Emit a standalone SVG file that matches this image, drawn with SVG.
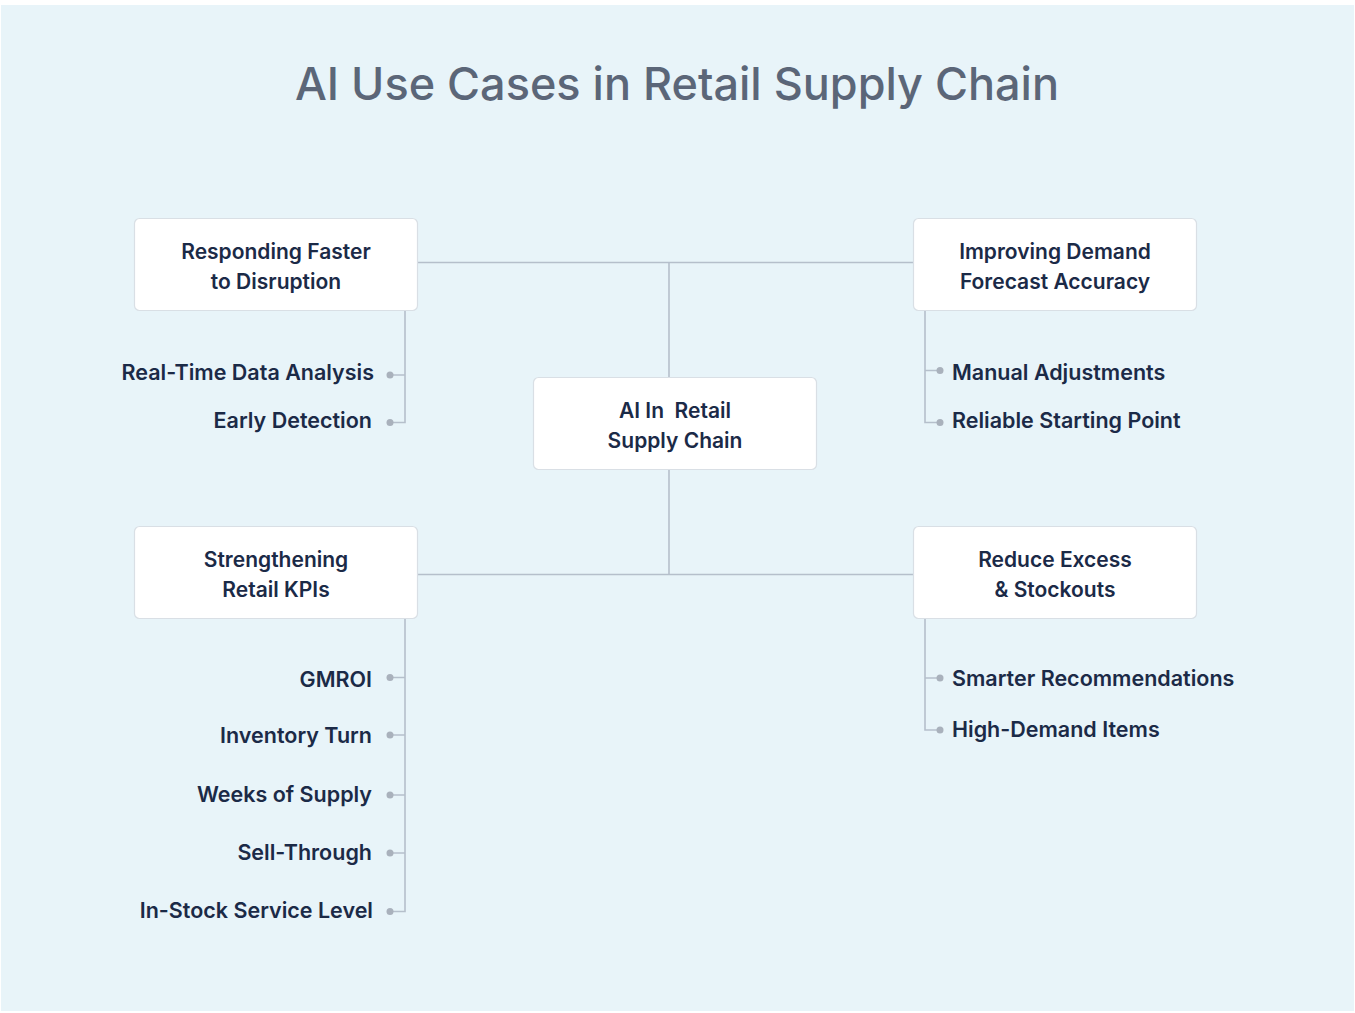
<svg xmlns="http://www.w3.org/2000/svg" width="1355" height="1013" viewBox="0 0 1355 1013">
<style>
.node rect{fill:#FFFFFF;stroke:#D9DFE5;stroke-width:1.2}
.nt{font-family:Inter,"Liberation Sans",sans-serif;font-size:21px;font-weight:600;fill:#1B2A47;text-anchor:middle}
.lt{font-family:Inter,"Liberation Sans",sans-serif;font-size:21.5px;font-weight:600;fill:#1B2A47}
.l{text-anchor:end}
.conn line,.conn path{stroke:#B5BFCB;stroke-width:1.6;fill:none}
.dot{fill:#A9B1BC}
</style>
<rect x="0" y="0" width="1355" height="1013" fill="#FFFFFF"/>
<rect x="1" y="5" width="1353" height="1006" fill="#E8F4F9"/>
<text x="677" y="100" font-family="Inter,'Liberation Sans',sans-serif" font-size="45" font-weight="500" fill="#5B6678" text-anchor="middle">AI Use Cases in Retail Supply Chain</text>
<g class="conn">
<line x1="417" y1="262.5" x2="913" y2="262.5"/>
<line x1="669" y1="262.5" x2="669" y2="377"/>
<line x1="669" y1="469" x2="669" y2="574.5"/>
<line x1="417" y1="574.5" x2="913" y2="574.5"/>
<path d="M405 310 V422.5 H390 M405 375 H390"/>
<path d="M925 310 V422.5 H940 M925 370.5 H940"/>
<path d="M405 618 V911.5 H390 M405 677.5 H390 M405 735 H390 M405 795 H390 M405 853 H390"/>
<path d="M925 618 V730 H940 M925 678 H940"/>
<circle class="dot" cx="390" cy="375" r="3.5"/>
<circle class="dot" cx="390" cy="422.5" r="3.5"/>
<circle class="dot" cx="940" cy="370.5" r="3.5"/>
<circle class="dot" cx="940" cy="422.5" r="3.5"/>
<circle class="dot" cx="390" cy="677.5" r="3.5"/>
<circle class="dot" cx="390" cy="735" r="3.5"/>
<circle class="dot" cx="390" cy="795" r="3.5"/>
<circle class="dot" cx="390" cy="853" r="3.5"/>
<circle class="dot" cx="390" cy="911.5" r="3.5"/>
<circle class="dot" cx="940" cy="678" r="3.5"/>
<circle class="dot" cx="940" cy="730" r="3.5"/>
</g>
<g id="node-responding" class="node">
<rect x="134.5" y="218.5" width="283" height="92" rx="5"/>
<text class="nt" x="276" y="259">Responding Faster</text>
<text class="nt" x="276" y="289">to Disruption</text>
</g>
<g id="node-improving" class="node">
<rect x="913.5" y="218.5" width="283" height="92" rx="5"/>
<text class="nt" x="1055" y="259">Improving Demand</text>
<text class="nt" x="1055" y="289">Forecast Accuracy</text>
</g>
<g id="node-center" class="node">
<rect x="533.5" y="377.5" width="283" height="92" rx="5"/>
<text class="nt" x="675" y="418" xml:space="preserve" style="white-space:pre">AI In  Retail</text>
<text class="nt" x="675" y="448">Supply Chain</text>
</g>
<g id="node-strengthening" class="node">
<rect x="134.5" y="526.5" width="283" height="92" rx="5"/>
<text class="nt" x="276" y="567">Strengthening</text>
<text class="nt" x="276" y="597">Retail KPIs</text>
</g>
<g id="node-reduce" class="node">
<rect x="913.5" y="526.5" width="283" height="92" rx="5"/>
<text class="nt" x="1055" y="567">Reduce Excess</text>
<text class="nt" x="1055" y="597">&amp; Stockouts</text>
</g>
<g id="leaf-rtda"><text class="lt l" x="374" y="380">Real-Time Data Analysis</text></g>
<g id="leaf-ed"><text class="lt l" x="372" y="428">Early Detection</text></g>
<g id="leaf-ma"><text class="lt" x="952" y="380">Manual Adjustments</text></g>
<g id="leaf-rsp"><text class="lt" x="952" y="428">Reliable Starting Point</text></g>
<g id="leaf-gmroi"><text class="lt l" x="372" y="687">GMROI</text></g>
<g id="leaf-it"><text class="lt l" x="372" y="743">Inventory Turn</text></g>
<g id="leaf-wos"><text class="lt l" x="372" y="802">Weeks of Supply</text></g>
<g id="leaf-st"><text class="lt l" x="372" y="860">Sell-Through</text></g>
<g id="leaf-issl"><text class="lt l" x="373" y="918">In-Stock Service Level</text></g>
<g id="leaf-sr"><text class="lt" x="952" y="686">Smarter Recommendations</text></g>
<g id="leaf-hdi"><text class="lt" x="952" y="737">High-Demand Items</text></g>
</svg>
